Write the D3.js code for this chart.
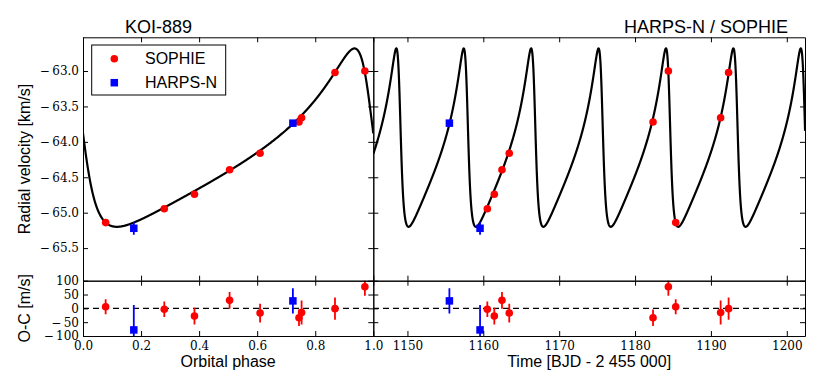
<!DOCTYPE html>
<html>
<head>
<meta charset="utf-8">
<script src="https://cdn.jsdelivr.net/npm/d3@7"></script>
<style>
  body { margin: 0; background: #fff; }
  svg { display: block; }
  .tick text { font-family: "DejaVu Serif", serif; font-size: 12px; fill: #000; }
  .tick line, .domain { stroke: #000; stroke-width: 1; }
  .lbl { font-family: "Liberation Sans", Arial, sans-serif; font-size: 16px; fill: #000; }
  .ttl { font-family: "Liberation Sans", Arial, sans-serif; font-size: 18px; fill: #000; }
</style>
</head>
<body>
<div id="main"></div>
<script>
var width = 830,
    height = 374;

var sophieTime  = [1160.53, 1161.45, 1162.46, 1163.42, 1182.37, 1184.39, 1185.36, 1191.28, 1192.33];
var sophiePhase = [0.280, 0.384, 0.505, 0.610, 0.744, 0.971, 0.078, 0.753, 0.868];
var sophieRV    = [-64.944, -64.74, -64.393, -64.16, -63.72, -63.00, -65.14, -63.66, -63.02];
var sophieOC    = [-3, -28, 29, -17, -34, 78, 6, -15, -1];   // m/s
var sophieErr   = [28, 30, 30, 34, 30, 32, 27, 43, 40];      // m/s

var harpsTime  = [1155.53, 1159.57];
var harpsPhase = [0.723, 0.175];
var harpsRV    = [-63.736, -65.22];
var harpsOC    = [27, -78];
var harpsErr   = [46, 90];

// keplerian fit shown as the black curve
var period = 8.8849,      // days
    t0 = 1149.11,         // BJD - 2455000 at phase 0
    phiPeri = 0.986,      // phase of periastron
    ecc = 0.56,
    omega = 66 * Math.PI / 180,
    kAmp = 1.259,         // km/s
    gamma = -64.227;      // km/s

var phaseTicks = [0, 0.2, 0.4, 0.6, 0.8, 1.0],
    timeTicks = [1150, 1160, 1170, 1180, 1190, 1200],
    rvTicks = [-65.5, -65.0, -64.5, -64.0, -63.5, -63.0],
    ocTicks = [-100, -50, 0, 50, 100];

// layout
var xLeft = 83, xMid = 373.3, xRight = 805,
    yTop = 37.3, ySplit = 280.7, yBottom = 336;

var svg = d3.select("div#main").append("svg")
    .attr("width", width)
    .attr("height", height)
    .attr("viewBox", `0 0 ${width} ${height}`);

svg.append("rect").attr("width", width).attr("height", height).attr("fill", "#fff");

var xPhase = d3.scaleLinear().domain([0, 1]).range([xLeft, xMid]);
var xTime = d3.scaleLinear().domain([1145.5, 1202.4]).range([xMid, xRight]);
var yRV = d3.scaleLinear().domain([-65.96, -62.524]).range([ySplit, yTop]);
var yOC = d3.scaleLinear().domain([-100, 100]).range([yBottom, ySplit]);

function rvModel(phase) {
    var M = 2 * Math.PI * (phase - phiPeri);
    var E = M + ecc * Math.sin(M);
    for (var i = 0; i < 40; i++) {
        E = E - (E - ecc * Math.sin(E) - M) / (1 - ecc * Math.cos(E));
    }
    var nu = 2 * Math.atan2(Math.sqrt(1 + ecc) * Math.sin(E / 2), Math.sqrt(1 - ecc) * Math.cos(E / 2));
    return gamma + kAmp * (Math.cos(nu + omega) + ecc * Math.cos(omega));
}

function phaseOf(t) {
    var p = (t - t0) / period;
    return p - Math.floor(p);
}

// tex-like minus with a little room after it
function texFmt(spec) {
    var f = d3.format(spec);
    return function(v) { return f(v).replace("\u2212", "\u2212\u2009"); };
}

// clip paths for the four panels
var defs = svg.append("defs");
function addClip(id, x0, x1, y0, y1) {
    defs.append("clipPath").attr("id", id)
        .append("rect").attr("x", x0).attr("y", y0).attr("width", x1 - x0).attr("height", y1 - y0);
}
addClip("cl-lt", xLeft, xMid, yTop, ySplit);
addClip("cl-rt", xMid, xRight, yTop, ySplit);
addClip("cl-lb", xLeft, xMid, ySplit, yBottom);
addClip("cl-rb", xMid, xRight, ySplit, yBottom);

// model curves
var phases = d3.range(0, 1.0005, 0.001);
var times = d3.range(1145.5, 1202.41, 0.01);

svg.append("path")
    .attr("clip-path", "url(#cl-lt)")
    .attr("d", d3.line().x(function(d) { return xPhase(d); }).y(function(d) { return yRV(rvModel(d)); })(phases))
    .attr("fill", "none").attr("stroke", "#000").attr("stroke-width", 2.2);

svg.append("path")
    .attr("clip-path", "url(#cl-rt)")
    .attr("d", d3.line().x(function(d) { return xTime(d); }).y(function(d) { return yRV(rvModel(phaseOf(d))); })(times))
    .attr("fill", "none").attr("stroke", "#000").attr("stroke-width", 2.2);

// zero line in residuals
svg.append("line")
    .attr("x1", xLeft).attr("x2", xRight)
    .attr("y1", yOC(0)).attr("y2", yOC(0))
    .attr("stroke", "#000").attr("stroke-width", 1.2)
    .attr("stroke-dasharray", "6,4");

function zip(xs, rv, oc, err) {
    return xs.map(function(x, i) { return {x: x, rv: rv[i], oc: oc[i], err: err[i]}; });
}

function drawPoints(g, data, xs, color, square, clipTop, clipBot) {
    var top = g.append("g").attr("clip-path", `url(#${clipTop})`);
    var bot = g.append("g").attr("clip-path", `url(#${clipBot})`);

    top.selectAll("line").data(data).enter().append("line")
        .attr("x1", function(d) { return xs(d.x); }).attr("x2", function(d) { return xs(d.x); })
        .attr("y1", function(d) { return yRV(d.rv - d.err / 1000); })
        .attr("y2", function(d) { return yRV(d.rv + d.err / 1000); })
        .attr("stroke", color).attr("stroke-width", 1.8);

    bot.selectAll("line").data(data).enter().append("line")
        .attr("x1", function(d) { return xs(d.x); }).attr("x2", function(d) { return xs(d.x); })
        .attr("y1", function(d) { return yOC(d.oc - d.err); })
        .attr("y2", function(d) { return yOC(d.oc + d.err); })
        .attr("stroke", color).attr("stroke-width", 1.8);

    [[top, yRV, "rv"], [bot, yOC, "oc"]].forEach(function(p) {
        var sel = p[0].selectAll(".mk").data(data).enter();
        if (square) {
            sel.append("rect").attr("class", "mk")
                .attr("x", function(d) { return xs(d.x) - 3.75; })
                .attr("y", function(d) { return p[1](d[p[2]]) - 3.75; })
                .attr("width", 7.5).attr("height", 7.5)
                .attr("fill", color);
        } else {
            sel.append("circle").attr("class", "mk")
                .attr("cx", function(d) { return xs(d.x); })
                .attr("cy", function(d) { return p[1](d[p[2]]); })
                .attr("r", 3.8)
                .attr("fill", color);
        }
    });
}

var pts = svg.append("g");
drawPoints(pts, zip(sophiePhase, sophieRV, sophieOC, sophieErr), xPhase, "#ff0000", false, "cl-lt", "cl-lb");
drawPoints(pts, zip(harpsPhase, harpsRV, harpsOC, harpsErr), xPhase, "#0000ff", true, "cl-lt", "cl-lb");
drawPoints(pts, zip(sophieTime, sophieRV, sophieOC, sophieErr), xTime, "#ff0000", false, "cl-rt", "cl-rb");
drawPoints(pts, zip(harpsTime, harpsRV, harpsOC, harpsErr), xTime, "#0000ff", true, "cl-rt", "cl-rb");

// axes: ticks inward on all four sides of each panel
function frame(x, y, xTicks, yTicks, x0, x1, y0, y1, xFmt, yFmt) {
    var g = svg.append("g");
    g.append("g").attr("transform", `translate(0,${y1})`)
        .call(d3.axisBottom(x).tickValues(xTicks).tickSize(-5).tickSizeOuter(0).tickPadding(5).tickFormat(xFmt || ""));
    g.append("g").attr("transform", `translate(0,${y0})`)
        .call(d3.axisTop(x).tickValues(xTicks).tickSize(-5).tickSizeOuter(0).tickFormat(""));
    g.append("g").attr("transform", `translate(${x0},0)`)
        .call(d3.axisLeft(y).tickValues(yTicks).tickSize(-5).tickSizeOuter(0).tickPadding(4).tickFormat(yFmt || ""));
    g.append("g").attr("transform", `translate(${x1},0)`)
        .call(d3.axisRight(y).tickValues(yTicks).tickSize(-5).tickSizeOuter(0).tickFormat(""));
    g.selectAll("text").attr("font-family", null).attr("font-size", null);
    return g;
}

frame(xPhase, yRV, phaseTicks, rvTicks, xLeft, xMid, yTop, ySplit, null, texFmt(".1f"));
frame(xTime, yRV, timeTicks, rvTicks, xMid, xRight, yTop, ySplit, null, null);
frame(xPhase, yOC, phaseTicks, ocTicks, xLeft, xMid, ySplit, yBottom, d3.format(".1f"), texFmt("d"));
frame(xTime, yOC, timeTicks, ocTicks, xMid, xRight, ySplit, yBottom, d3.format("d"), null);

// titles and labels
svg.append("text").attr("class", "ttl").attr("x", 125).attr("y", 32.5).text("KOI-889");
svg.append("text").attr("class", "ttl").attr("x", 788).attr("y", 32.5)
    .attr("text-anchor", "end").text("HARPS-N / SOPHIE");

svg.append("text").attr("class", "lbl")
    .attr("transform", `translate(29.5,${(yTop + ySplit) / 2}) rotate(-90)`)
    .attr("text-anchor", "middle").text("Radial velocity [km/s]");
svg.append("text").attr("class", "lbl")
    .attr("transform", `translate(29.5,${(ySplit + yBottom) / 2}) rotate(-90)`)
    .attr("text-anchor", "middle").text("O-C [m/s]");
svg.append("text").attr("class", "lbl")
    .attr("x", (xLeft + xMid) / 2).attr("y", 367)
    .attr("text-anchor", "middle").text("Orbital phase");
svg.append("text").attr("class", "lbl")
    .attr("x", (xMid + xRight) / 2).attr("y", 367)
    .attr("text-anchor", "middle").text("Time [BJD - 2 455 000]");

// legend
var legend = svg.append("g");
legend.append("rect")
    .attr("x", 91.7).attr("y", 45).attr("width", 134).attr("height", 50)
    .attr("fill", "#fff").attr("stroke", "#000").attr("stroke-width", 1);
legend.append("circle").attr("cx", 114.3).attr("cy", 58.7).attr("r", 3.8).attr("fill", "#ff0000");
legend.append("rect").attr("x", 114.3 - 3.75).attr("y", 82.7 - 3.75)
    .attr("width", 7.5).attr("height", 7.5).attr("fill", "#0000ff");
legend.append("text").attr("class", "lbl").attr("x", 145).attr("y", 64.4).text("SOPHIE");
legend.append("text").attr("class", "lbl").attr("x", 145).attr("y", 88.4).text("HARPS-N");
</script>
</body>
</html>
